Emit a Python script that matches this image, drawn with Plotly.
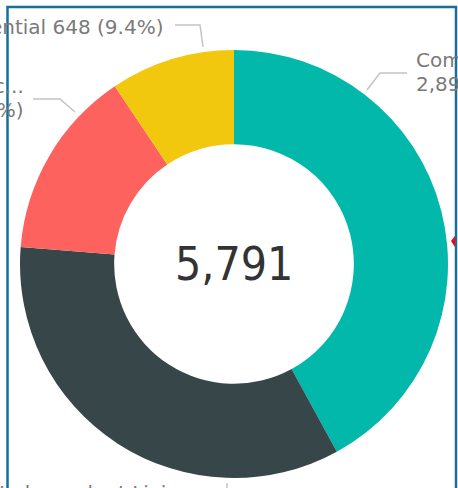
import plotly.graph_objects as go

# ---- data ----
categories = ["Community", "Independent Living", "Supported Accommodation", "Residential"]
values = [2896, 2360, 988, 648]
colors = ["#01B8AA", "#374649", "#FD625E", "#F2C80F"]
center_value = 5791

W, H = 458, 488
total = sum(values)


def px(x):
    return x / W


def py(y):
    return 1 - y / H


CENTER_FONT = "DejaVu Sans Condensed, sans-serif"
LABEL_FONT = "DejaVu Sans, sans-serif"
LABEL_COLOR = "#7a7a7a"
LEADER = "#c4c4c4"
LS = 20

# pie geometry (pixels)
cx, cy, R = 234, 264, 214

fig = go.Figure(
    go.Pie(
        labels=categories,
        values=values,
        marker=dict(colors=colors, line=dict(width=0)),
        hole=0.56,
        sort=False,
        direction="clockwise",
        rotation=0,
        textinfo="none",
        hoverinfo="label+value+percent",
        domain=dict(x=[px(cx - R), px(cx + R)], y=[py(cy + R), py(cy - R)]),
        showlegend=False,
    )
)


def val_text(i):
    return f"{values[i]:,} ({values[i] / total * 100:.1f}%)"


def lab(x, y, text, anchor):
    return dict(x=px(x), y=py(y), text=text, showarrow=False,
                font=dict(family=LABEL_FONT, size=LS, color=LABEL_COLOR),
                xanchor=anchor, yanchor="middle")


annotations = [
    dict(x=px(cx), y=py(cy), text=f"{center_value:,}", showarrow=False,
         font=dict(family=CENTER_FONT, size=46, color="#333333"),
         xanchor="center", yanchor="middle"),
    lab(165, 27, f"{categories[3]} {val_text(3)}", "right"),
    lab(26, 86, categories[2][:12] + "...", "right"),
    lab(26, 110, val_text(2), "right"),
    lab(414, 60, categories[0], "left"),
    lab(414, 84, val_text(0), "left"),
    lab(194, 493, categories[1], "right"),
]

leaders = [
    [(175, 25), (200, 25), (203, 47)],
    [(33, 99), (60, 99), (75, 112)],
    [(407, 73), (380, 73), (367, 90)],
    [(227, 483), (227, 505)],
]

shapes = []
for pts in leaders:
    path = "M " + " L ".join(f"{px(x)},{py(y)}" for x, y in pts)
    shapes.append(dict(type="path", xref="paper", yref="paper", path=path,
                       line=dict(color=LEADER, width=1.5)))

shapes.append(dict(type="rect", xref="paper", yref="paper",
                   x0=px(7.5), x1=px(456), y0=py(520), y1=py(7),
                   line=dict(color="#17709A", width=2.5), fillcolor="rgba(0,0,0,0)"))
shapes.append(dict(type="path", xref="paper", yref="paper",
                   path=f"M {px(451)},{py(241)} L {px(455)},{py(236)} L {px(455)},{py(247)} Z",
                   line=dict(width=0), fillcolor="#FF0000"))

fig.update_layout(
    width=W, height=H,
    margin=dict(l=0, r=0, t=0, b=0),
    paper_bgcolor="white",
    plot_bgcolor="white",
    annotations=annotations,
    shapes=shapes,
)

fig.write_html(
    "out.html",
    config={"displayModeBar": False},
    post_script="document.body.style.margin='0';document.body.style.overflow='hidden';",
)
